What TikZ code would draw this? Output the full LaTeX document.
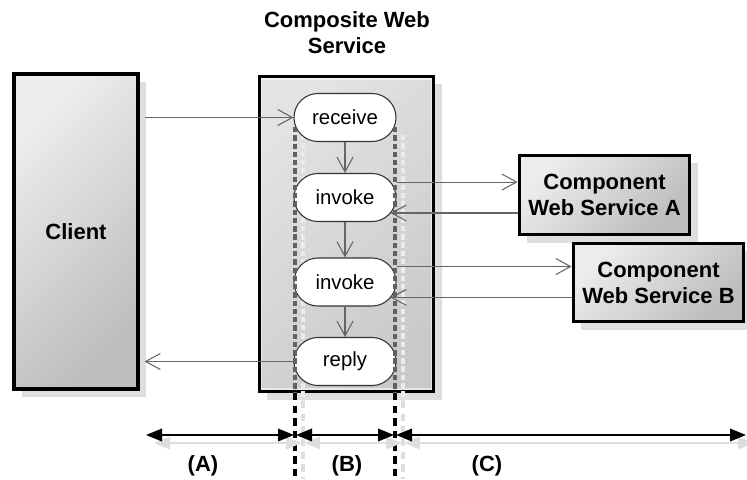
\documentclass[tikz,border=0pt]{standalone}
\usepackage{fontspec}
\setmainfont{Liberation Sans}
\usetikzlibrary{arrows.meta,shadows}
\begin{document}
\begin{tikzpicture}[x=0.75pt,y=-0.75pt,
  shadowed/.style={drop shadow={shadow xshift=6pt,shadow yshift=-6pt,fill=black!13,opacity=1}},
  bigbox/.style={draw=black,line width=2.3pt,top color=black!7,bottom color=black!26,shading angle=45,
    shadowed,font=\bfseries\fontsize{16.5}{19.5}\selectfont,align=center,inner sep=0pt},
  compbox/.style={draw=black,line width=2.3pt,top color=black!11,bottom color=black!21,shading angle=45,
    shadowed,inner sep=0pt},
  act/.style={draw=black!80,line width=0.8pt,fill=white,rounded corners=18pt,minimum width=76.5pt,
    minimum height=36pt,font=\fontsize{15.3}{18}\selectfont,inner sep=0pt},
  flow/.style={draw=black!60,line width=0.8pt,-{Straight Barb[length=11pt,width=12pt,line width=0.8pt]}},
  dim/.style={draw=black,line width=1.1pt,{Triangle[length=12pt,width=9.5pt]}-{Triangle[length=12pt,width=9.5pt]}},
  dimshadow/.style={draw=black!13,line width=1.1pt,{Triangle[length=12pt,width=9.5pt]}-{Triangle[length=12pt,width=9.5pt]}},
  lane/.style={line width=3pt,dash pattern=on 4pt off 2.2pt},
  lanelow/.style={line width=2.8pt,dash pattern=on 5.5pt off 4pt},
  lbl/.style={font=\bfseries\fontsize{16.5}{19.5}\selectfont,inner sep=0pt}
]
\useasboundingbox (0,0) rectangle (747,479);

% big boxes
\node[bigbox,minimum width=93pt,minimum height=236.25pt] (client) at (76,231.5) {Client};
\node[compbox,minimum width=131pt,minimum height=236.5pt] (comp) at (346.5,234) {};
\draw[white,opacity=0.55,line width=1.2pt] ([shift={(4,4)}]comp.north west) rectangle ([shift={(-4,-4)}]comp.south east);
\node[lbl,align=center] (title) at (347,33) {Composite Web\\Service};

\node[bigbox,minimum width=128pt,minimum height=59.5pt] (A) at (604.5,195) {Component\\Web Service A};
\node[bigbox,minimum width=128pt,minimum height=59pt] (B) at (658.5,282.5) {Component\\Web Service B};

% lane shadows
\coordinate (s1t) at (303,135); \coordinate (s1m) at (303,401); \coordinate (s1b) at (303,479);
\coordinate (s2t) at (403,135); \coordinate (s2m) at (403,401); \coordinate (s2b) at (403,479);
\draw[lane,black!8] (s1t) -- (s1m);
\draw[lane,black!8] (s2t) -- (s2m);
\draw[lanelow,black!13] (s1m) -- (s1b);
\draw[lanelow,black!13] (s2m) -- (s2b);

% activities
\node[act] (recv) at (345,117.5) {receive};
\node[act] (inv1) at (345,197.5) {invoke};
\node[act] (inv2) at (345,282) {invoke};
\node[act] (reply) at (345,361.5) {reply};

% lanes
\coordinate (l1t) at (295,127); \coordinate (l1m) at (295,393); \coordinate (l1b) at (295,479);
\coordinate (l2t) at (395,127); \coordinate (l2m) at (395,393); \coordinate (l2b) at (395,479);
\draw[lane,black!62] (l1t) -- (l1m);
\draw[lane,black!62] (l2t) -- (l2m);
\draw[lanelow,black] (l1m) -- (l1b);
\draw[lanelow,black] (l2m) -- (l2b);

% flows
\draw[flow] ([xshift=3.75pt]client.east |- recv.west) -- (recv.west);
\draw[flow] (recv.south) -- (inv1.north);
\draw[flow] (inv1.south) -- (inv2.north);
\draw[flow] (inv2.south) -- (reply.north);
\draw[flow] (reply.west) -- ([xshift=3.75pt]client.east |- reply.west);

\draw[flow] ([yshift=11.6pt]inv1.east) -- ([yshift=11.6pt]inv1.east -| A.west);
\draw[flow] ([yshift=-11.6pt]inv1.east -| A.west) -- ([xshift=-4.5pt,yshift=-11.6pt]inv1.east);
\draw[flow] ([yshift=11.6pt]inv2.east) -- ([yshift=11.6pt]inv2.east -| B.west);
\draw[flow] ([yshift=-11.6pt]inv2.east -| B.west) -- ([xshift=-4.5pt,yshift=-11.6pt]inv2.east);

% dimension arrows
\coordinate (d0) at (146,435); \coordinate (d1) at (294,435); \coordinate (d2) at (296,435);
\coordinate (d3) at (394,435); \coordinate (d4) at (396,435); \coordinate (d5) at (746,435);
\draw[dimshadow] ([shift={(8,8)}]d0) -- ([shift={(8,8)}]d1);
\draw[dimshadow] ([shift={(8,8)}]d2) -- ([shift={(8,8)}]d3);
\draw[dimshadow] ([shift={(8,8)}]d4) -- ([shift={(8,8)}]d5);
\draw[dim] (d0) -- (d1);
\draw[dim] (d2) -- (d3);
\draw[dim] (d4) -- (d5);

\node[lbl] (la) at (203,466) {(A)};
\node[lbl] (lb) at (347,466) {(B)};
\node[lbl] (lc) at (487,466) {(C)};
\end{tikzpicture}
\end{document}
